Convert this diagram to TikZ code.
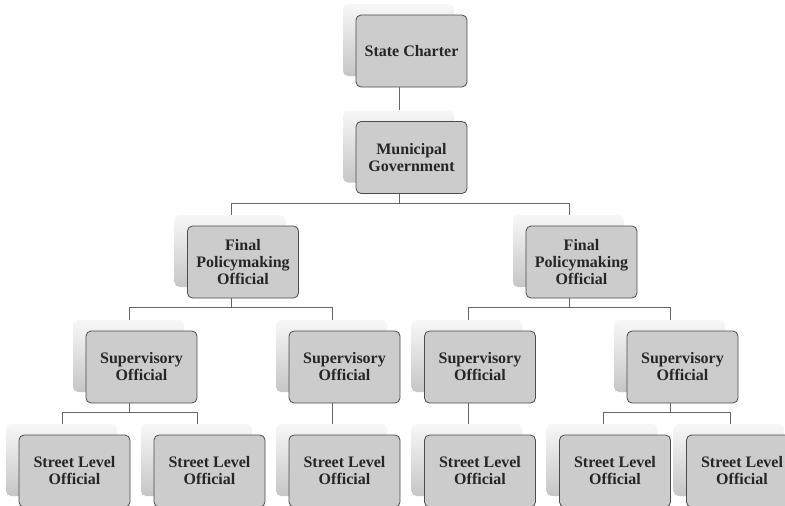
\documentclass[tikz,border=0pt]{standalone}
\usepackage{fontspec}
\setmainfont{Liberation Serif}
\usetikzlibrary{shadows}

\begin{document}
\begin{tikzpicture}[x=1pt,y=-1pt,
  box/.style={rectangle,rounded corners=5pt,draw=black!70,line width=0.8pt,fill=gray!40,
    minimum width=111pt,minimum height=72pt,align=center,text=black!85,
    font=\fontsize{16}{17}\selectfont\bfseries,
    general shadow={shadow xshift=-13pt,shadow yshift=11pt,top color=gray!6,bottom color=gray!45}},
  link/.style={draw=black!60,line width=1pt}]
\useasboundingbox (0,0) rectangle (785,506);
% Top
\node[box] (SC) at (411.5,51) {State Charter};
\node[box] (MG) at (411.5,157.5) {Municipal\\Government};
% Policymakers
\node[box] (FP1) at (243,262) {Final\\Policymaking\\Official};
\node[box] (FP2) at (581.5,262) {Final\\Policymaking\\Official};
% Supervisors
\node[box] (SO1) at (141.5,367) {Supervisory\\Official};
\node[box] (SO2) at (344.5,367) {Supervisory\\Official};
\node[box] (SO3) at (480,367) {Supervisory\\Official};
\node[box] (SO4) at (682.5,367) {Supervisory\\Official};
% Street level
\node[box] (SL1) at (74.5,471) {Street Level\\Official};
\node[box] (SL2) at (209.5,471) {Street Level\\Official};
\node[box] (SL3) at (344.5,471) {Street Level\\Official};
\node[box] (SL4) at (480,471) {Street Level\\Official};
\node[box] (SL5) at (615,471) {Street Level\\Official};
\node[box] (SL6) at (742,471) {Street Level\\Official};
% Connectors
\draw[link] ([xshift=-12pt]SC.south) -- ([xshift=-12pt,yshift=11pt]MG.north);
\draw[link] ([xshift=-12pt]MG.south) -- ++(0,10) -| ([xshift=-12pt,yshift=11pt]FP1.north);
\draw[link] ([xshift=-12pt]MG.south) -- ++(0,10) -| ([xshift=-12pt,yshift=11pt]FP2.north);
\draw[link] ([xshift=-12pt]FP1.south) -- ++(0,9) -| ([xshift=-12pt,yshift=11pt]SO1.north);
\draw[link] ([xshift=-12pt]FP1.south) -- ++(0,9) -| ([xshift=-12pt,yshift=11pt]SO2.north);
\draw[link] ([xshift=-12pt]FP2.south) -- ++(0,9) -| ([xshift=-12pt,yshift=11pt]SO3.north);
\draw[link] ([xshift=-12pt]FP2.south) -- ++(0,9) -| ([xshift=-12pt,yshift=11pt]SO4.north);
\draw[link] ([xshift=-12pt]SO1.south) -- ++(0,9) -| ([xshift=-12pt,yshift=11pt]SL1.north);
\draw[link] ([xshift=-12pt]SO1.south) -- ++(0,9) -| ([xshift=-12pt,yshift=11pt]SL2.north);
\draw[link] ([xshift=-12pt]SO2.south) -- ([xshift=-12pt,yshift=11pt]SL3.north);
\draw[link] ([xshift=-12pt]SO3.south) -- ([xshift=-12pt,yshift=11pt]SL4.north);
\draw[link] ([xshift=-12pt]SO4.south) -- ++(0,9) -| ([xshift=-12pt,yshift=11pt]SL5.north);
\draw[link] ([xshift=-12pt]SO4.south) -- ++(0,9) -| ([xshift=-12pt,yshift=11pt]SL6.north);
\end{tikzpicture}
\end{document}
